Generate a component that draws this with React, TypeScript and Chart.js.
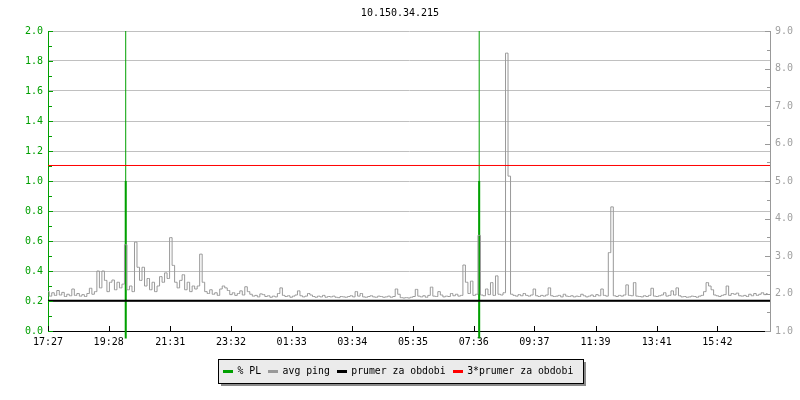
import React, { useEffect, useRef } from "react";
import { Chart, registerables } from "chart.js";
Chart.register(...registerables);

const TITLE = "10.150.34.215";
const timeLabels = ["17:27", "19:28", "21:31", "23:32", "01:33", "03:34", "05:35", "07:36", "09:37", "11:39", "13:41", "15:42"];
const SAMPLE_MIN = 5;
const RANGE_MIN = 1440;

// avg ping (ms), one sample every 5 minutes from 17:27
const avgPing = [
  2.05, 1.93, 2.02, 1.95, 2.08, 1.96, 2.03, 1.92, 1.98, 1.94,
  2.12, 1.95, 2.0, 1.93, 1.97, 1.92, 2.0, 2.14, 1.98, 2.05,
  2.6, 2.15, 2.6, 2.35, 2.05, 2.3, 2.36, 2.1, 2.3, 2.15,
  2.25, 3.3, 2.1, 2.2, 2.05, 3.37, 2.7, 2.35, 2.7, 2.2,
  2.4, 2.1, 2.3, 2.05, 2.2, 2.45, 2.3, 2.55, 2.4, 3.49,
  2.75, 2.3, 2.15, 2.35, 2.5, 2.1, 2.3, 2.05, 2.2, 2.12,
  2.2, 3.05, 2.3, 2.05, 2.0, 2.1, 1.98, 2.02, 1.95, 2.12,
  2.2, 2.15, 2.08, 1.97, 2.02, 1.95, 2.0, 2.07, 1.96, 2.18,
  2.05, 1.98, 1.93, 1.95, 1.91, 1.99, 1.97, 1.92, 1.94, 1.9,
  1.93, 1.91, 2.0, 2.15, 1.95, 1.92, 1.94, 1.9, 1.93, 1.96,
  2.07, 1.94, 1.91, 1.93, 2.0, 1.96, 1.92, 1.9, 1.93, 1.91,
  1.95, 1.9, 1.92, 1.91, 1.93, 1.9, 1.89, 1.92, 1.91, 1.9,
  1.92, 1.94, 1.91, 2.05, 1.93, 2.0, 1.91, 1.9, 1.92, 1.94,
  1.91, 1.9, 1.93, 1.92, 1.9, 1.91, 1.93, 1.9, 1.92, 2.12,
  1.98, 1.89, 1.88, 1.89, 1.88, 1.9, 1.92, 2.11, 1.93, 1.91,
  1.94, 1.9, 1.95, 2.17, 1.93, 1.92, 2.05, 1.96, 1.91, 1.93,
  1.92, 2.0, 1.94, 1.98, 1.93, 1.95, 2.76, 2.3, 2.0, 2.33,
  1.95, 1.98, 3.55, 1.96, 1.94, 2.12, 1.97, 2.29, 1.95, 2.47,
  1.98, 1.96, 2.02, 8.41, 5.13, 1.98, 1.95, 1.93, 1.97, 1.94,
  2.0, 1.95, 1.93, 1.96, 2.12, 1.94, 1.92, 1.95, 1.93, 1.96,
  2.15, 1.94, 1.92, 1.93, 1.95, 1.91, 1.98, 1.93, 1.92, 1.94,
  1.91, 1.93, 1.92, 1.98, 1.94, 1.91, 1.93, 1.96, 1.92, 1.97,
  1.94, 2.12, 1.95, 1.93, 3.09, 4.31, 1.94, 1.92, 1.95, 1.93,
  1.96, 2.23, 1.95, 1.94, 2.29, 1.93, 1.92, 1.91, 1.94, 1.92,
  1.95, 2.14, 1.93, 1.92, 1.94, 1.96, 2.02, 1.93, 1.95, 2.07,
  1.96, 2.15, 1.94, 1.91, 1.92, 1.9, 1.91, 1.93, 1.92, 1.9,
  1.93, 1.95, 2.05, 2.29, 2.2, 2.1, 1.96, 1.94, 1.92, 1.95,
  1.97, 2.2, 1.95, 2.0, 1.98, 2.01, 1.94, 1.93, 1.95, 1.92,
  1.98, 1.94, 2.0, 1.95, 1.98, 2.02, 1.97, 2.0,
];

// packet loss events: minutes after 17:27 and loss value
const plMinutes = [155, 860];
const plValues = [1.0, 1.0];
const PL_FLOOR = -0.05;

const prumer = 1.8045;
const prumer3 = 5.4135;

const legendLabels = ["% PL", "avg ping", "prumer za obdobi", "3*prumer za obdobi"];

const GREEN = "#00a000";
const GRAY = "#999999";
const RIGHT_GRAY = "#a0a0a0";
const GRID = "#c0c0c0";
const RED = "#ff0000";
const MONO = '"DejaVu Sans Mono", monospace';
const legendColors = [GREEN, GRAY, "#000000", RED];

function toMinutes(label: string): number {
  const [h0, m0] = timeLabels[0].split(":").map(Number);
  const [h, m] = label.split(":").map(Number);
  let t = h * 60 + m - (h0 * 60 + m0);
  if (t < 0) t += 1440;
  return t;
}
const tickMinutes = timeLabels.map(toMinutes);

const decorPlugin = {
  id: "decor",
  afterDraw(chart: any) {
    const ctx = chart.ctx;
    const { left, right, bottom } = chart.chartArea;
    const y = chart.scales.y;
    const y1 = chart.scales.y1;
    const x = chart.scales.x;
    ctx.save();
    ctx.lineWidth = 1;
    ctx.strokeStyle = GREEN;
    for (let k = 0; k <= 20; k++) {
      const py = Math.round(y.getPixelForValue(k / 10)) + 0.5;
      const len = k % 2 === 0 ? 5 : 4;
      ctx.beginPath();
      ctx.moveTo(left, py);
      ctx.lineTo(left + len, py);
      ctx.stroke();
    }
    ctx.strokeStyle = GRAY;
    for (let k = 2; k <= 18; k++) {
      const py = Math.round(y1.getPixelForValue(k / 2)) + 0.5;
      const len = k % 2 === 0 ? 5 : 3;
      ctx.beginPath();
      ctx.moveTo(right, py);
      ctx.lineTo(right - len, py);
      ctx.stroke();
    }
    ctx.strokeStyle = "#000";
    tickMinutes.forEach((t) => {
      const px = Math.round(x.getPixelForValue(t)) + 0.5;
      ctx.beginPath();
      ctx.moveTo(px, bottom);
      ctx.lineTo(px, bottom - 5);
      ctx.stroke();
    });

    ctx.font = "9.8px " + MONO;
    ctx.textBaseline = "middle";
    ctx.textAlign = "left";
    const markerW = 10;
    const gapM = 4.5;
    const gapItem = 7;
    const widths = legendLabels.map((t) => markerW + gapM + ctx.measureText(t).width);
    const inner = widths.reduce((a, b) => a + b, 0) + gapItem * (legendLabels.length - 1);
    const boxW = Math.round(inner + 15);
    const boxH = 24;
    const boxL = Math.round(chart.width / 2 - boxW / 2);
    const boxT = 359;
    ctx.fillStyle = "#8a8a8a";
    ctx.fillRect(boxL + 3, boxT + 3, boxW, boxH);
    ctx.fillStyle = "#ebebeb";
    ctx.fillRect(boxL, boxT, boxW, boxH);
    ctx.strokeStyle = "#000";
    ctx.strokeRect(boxL + 0.5, boxT + 0.5, boxW, boxH);
    let cx = boxL + 5;
    const cy = boxT + boxH / 2;
    legendLabels.forEach((t, i) => {
      ctx.fillStyle = legendColors[i];
      ctx.fillRect(Math.round(cx), Math.round(cy) - 1, markerW, 3);
      ctx.fillStyle = "#000";
      ctx.fillText(t, cx + markerW + gapM, cy + 0.5);
      cx += widths[i] + gapItem;
    });
    ctx.restore();
  },
};

export default function App() {
  const ref = useRef<HTMLCanvasElement | null>(null);
  useEffect(() => {
    if (!ref.current) return;
    const chart = new Chart(ref.current, {
      type: "line",
      data: {
        datasets: [
          {
            label: "3*prumer za obdobi",
            data: [{ x: 0, y: prumer3 }, { x: RANGE_MIN, y: prumer3 }],
            borderColor: RED,
            borderWidth: 1,
            yAxisID: "y1",
            order: 1,
          },
          {
            label: "prumer za obdobi",
            data: [{ x: 0, y: prumer }, { x: RANGE_MIN, y: prumer }],
            borderColor: "#000000",
            borderWidth: 2,
            yAxisID: "y1",
            order: 2,
          },
          {
            label: "avg ping",
            data: avgPing.map((v, i) => ({ x: i * SAMPLE_MIN, y: v })),
            borderColor: GRAY,
            borderWidth: 1,
            stepped: "middle",
            yAxisID: "y1",
            order: 3,
          },
          {
            label: "% PL",
            data: plMinutes.flatMap((t, i) => [
              { x: t, y: PL_FLOOR },
              { x: t, y: plValues[i] },
              { x: t, y: null },
            ]),
            borderColor: GREEN,
            borderWidth: 2,
            yAxisID: "y",
            order: 4,
            clip: { left: 0, top: 0, right: 0, bottom: 8 },
          },
          {
            label: "% PL rule",
            data: plMinutes.flatMap((t) => [
              { x: t, y: 0 },
              { x: t, y: 2 },
              { x: t, y: null },
            ]),
            borderColor: GREEN,
            borderWidth: 1,
            yAxisID: "y",
            order: 5,
          },
        ] as any,
      },
      options: {
        animation: false,
        responsive: false,
        spanGaps: false,
        layout: { padding: 0 },
        elements: { point: { radius: 0 }, line: { tension: 0, fill: false } },
        plugins: {
          legend: { display: false },
          tooltip: { enabled: false },
          title: {
            display: true,
            text: TITLE,
            color: "#000",
            font: { family: MONO, size: 10, weight: "normal" },
            padding: { top: 7, bottom: 12 },
          },
        },
        scales: {
          x: {
            type: "linear",
            min: 0,
            max: RANGE_MIN,
            afterBuildTicks: (scale: any) => {
              scale.ticks = tickMinutes.map((v) => ({ value: v }));
            },
            afterFit: (scale: any) => {
              scale.height = 69;
            },
            ticks: {
              autoSkip: false,
              maxRotation: 0,
              color: "#000",
              padding: 5,
              font: { family: MONO, size: 10 },
              callback: (v: any) => {
                const idx = tickMinutes.indexOf(Number(v));
                return idx >= 0 ? timeLabels[idx] : "";
              },
            },
            grid: { display: false, drawTicks: false },
            border: { display: true, color: "#000", width: 1 },
          },
          y: {
            position: "left",
            min: 0,
            max: 2,
            afterFit: (scale: any) => {
              scale.width = 48;
            },
            ticks: {
              stepSize: 0.2,
              color: GREEN,
              padding: 5,
              font: { family: MONO, size: 10 },
              callback: (v: any) => Number(v).toFixed(1),
            },
            grid: { color: GRID, drawTicks: false, lineWidth: 1 },
            border: { display: true, color: GREEN, width: 1 },
          },
          y1: {
            position: "right",
            min: 1,
            max: 9,
            afterFit: (scale: any) => {
              scale.width = 30;
            },
            ticks: {
              stepSize: 1,
              color: RIGHT_GRAY,
              padding: 5,
              font: { family: MONO, size: 10 },
              callback: (v: any) => Number(v).toFixed(1),
            },
            grid: { drawOnChartArea: false, drawTicks: false },
            border: { display: true, color: GRAY, width: 1 },
          },
        },
      } as any,
      plugins: [decorPlugin],
    });
    return () => chart.destroy();
  }, []);
  return (
    <div style={{ position: "fixed", left: 0, top: 0, width: 800, height: 400, background: "#fff" }}>
      <canvas ref={ref} width={800} height={400} style={{ display: "block" }} />
    </div>
  );
}
